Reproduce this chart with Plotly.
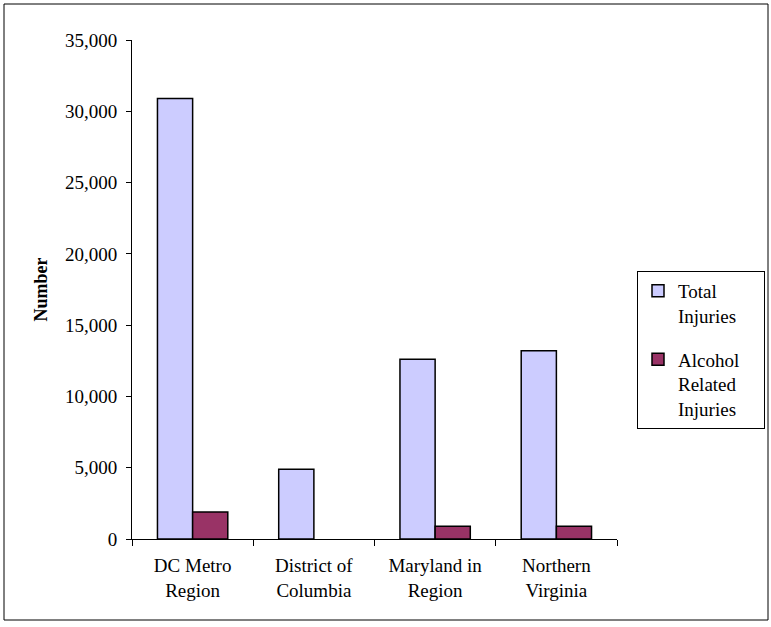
import plotly.graph_objects as go

regions = ["DC Metro<br>Region", "District of<br>Columbia", "Maryland in<br>Region", "Northern<br>Virginia"]
total_injuries = [30900, 4900, 12600, 13200]
alcohol_injuries = [1900, None, 900, 900]

W, H = 771, 627
L, R, T, B = 132, 154, 40, 88
pw, ph = W - L - R, H - T - B

fig = go.Figure()
fig.add_trace(
    go.Bar(
        x=regions,
        y=total_injuries,
        name="Total\u00a0\u00a0\u00a0\u00a0\u00a0<br>Injuries",
        legendgroup="total",
        marker={"color": "#CCCCFF", "line": {"color": "#000000", "width": 1.5}},
    )
)
fig.add_trace(
    go.Bar(
        x=regions,
        y=alcohol_injuries,
        name="Alcohol\u00a0\u00a0\u00a0\u00a0<br>Related<br>Injuries",
        legendgroup="alcohol",
        marker={"color": "#993366", "line": {"color": "#000000", "width": 1.5}},
    )
)

# outer chart frame
fig.add_shape(
    type="rect",
    xref="paper", yref="paper",
    x0=(4 - L) / pw, x1=(768 - L) / pw,
    y0=(H - B - 620) / ph, y1=(H - B - 4) / ph,
    line={"color": "#000000", "width": 1},
    fillcolor="rgba(0,0,0,0)",
    layer="below",
)

fig.update_layout(
    width=W,
    height=H,
    margin={"l": L, "r": R, "t": T, "b": B, "autoexpand": False},
    paper_bgcolor="#FFFFFF",
    plot_bgcolor="#FFFFFF",
    font={"family": "Liberation Serif, Times New Roman, serif", "color": "#000000", "size": 19},
    barmode="group",
    bargap=0.42,
    bargroupgap=0,
    showlegend=True,
    legend={
        "x": (637 - L) / pw,
        "xanchor": "left",
        "y": (H - B - 271) / ph,
        "yanchor": "top",
        "bordercolor": "#000000",
        "borderwidth": 1,
        "bgcolor": "#FFFFFF",
        "font": {"size": 19},
        "tracegroupgap": 16,
        "itemwidth": 30,
        "valign": "top",
    },
    xaxis={
        "showgrid": False,
        "showline": True,
        "linecolor": "#000000",
        "linewidth": 1,
        "ticks": "outside",
        "tickson": "boundaries",
        "ticklen": 6,
        "tickcolor": "#000000",
        "ticklabelstandoff": 9,
    },
    yaxis={
        "range": [0, 35000],
        "dtick": 5000,
        "tickformat": ",",
        "showgrid": False,
        "zeroline": False,
        "showline": True,
        "linecolor": "#000000",
        "linewidth": 1,
        "ticks": "outside",
        "ticklen": 5,
        "tickcolor": "#000000",
        "ticklabelstandoff": 5,
        "title": {"text": "<b>Number</b>", "font": {"size": 18}, "standoff": 12},
    },
)

fig.write_html(
    "out.html",
    config={"displayModeBar": False},
    post_script="document.body.style.margin='0';",
)
